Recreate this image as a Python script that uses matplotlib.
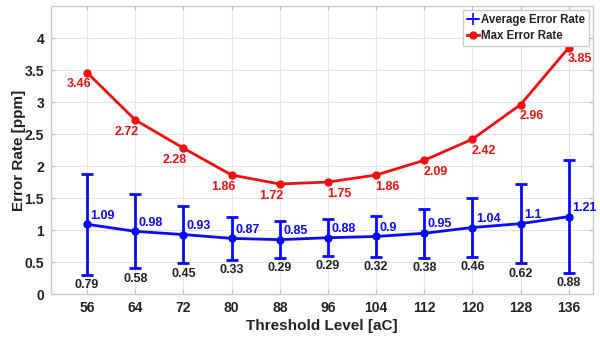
import matplotlib
matplotlib.use("Agg")
import matplotlib.pyplot as plt
from matplotlib.lines import Line2D

plt.rcParams['font.family'] = ['Liberation Sans', 'DejaVu Sans']
plt.rcParams['font.weight'] = 'bold'

thresholds = [56, 64, 72, 80, 88, 96, 104, 112, 120, 128, 136]
avg_rate = [1.09, 0.98, 0.93, 0.87, 0.85, 0.88, 0.9, 0.95, 1.04, 1.1, 1.21]
std_rate = [0.79, 0.58, 0.45, 0.33, 0.29, 0.29, 0.32, 0.38, 0.46, 0.62, 0.88]
max_rate = [3.46, 2.72, 2.28, 1.86, 1.72, 1.75, 1.86, 2.09, 2.42, 2.96, 3.85]

fig = plt.figure(figsize=(6, 3.38), dpi=100)
ax = fig.add_axes([0.085, 0.130, 0.903, 0.852])

blue = '#0a0aff'
red = '#f01010'

ax.errorbar(thresholds, avg_rate, yerr=std_rate, fmt='none', ecolor=blue, elinewidth=2,
            capsize=4, capthick=2, zorder=3)
ax.plot(thresholds, avg_rate, color=blue, lw=2, marker='o', ms=5, zorder=3)
ax.plot(thresholds, max_rate, color=red, lw=2, marker='o', ms=5, zorder=3)

for i, (x, m, s, mx) in enumerate(zip(thresholds, avg_rate, std_rate, max_rate)):
    ax.annotate(f"{m:g}", (x, m), xytext=(2.5, 2), textcoords='offset points',
                color=blue, fontsize=9, fontweight='bold', ha='left', va='bottom')
    ax.annotate(f"{s:g}", (x, m - s), xytext=(0, -3), textcoords='offset points',
                color='#222222', fontsize=9, fontweight='bold', ha='center', va='top')
    dx = -6 if x <= 88 else 8
    ax.annotate(f"{mx:g}", (x, mx), xytext=(dx, -4), textcoords='offset points',
                color=red, fontsize=9, fontweight='bold', ha='center', va='top')

ax.set_xlim(50, 140)
ax.set_ylim(0, 4.5)
ax.set_xticks(thresholds)
ax.set_yticks([0, 0.5, 1, 1.5, 2, 2.5, 3, 3.5, 4])
ax.set_yticklabels(['0', '0.5', '1', '1.5', '2', '2.5', '3', '3.5', '4'])
ax.grid(True, color='#e6e6e6', lw=0.8)
ax.set_axisbelow(True)
ax.tick_params(direction='in', length=3, colors='#bbbbbb', labelcolor='#222222',
               labelsize=10, top=True, right=True, pad=5)
for lab in ax.get_xticklabels() + ax.get_yticklabels():
    lab.set_fontweight('bold')
for sp in ax.spines.values():
    sp.set_color('#cccccc')
    sp.set_linewidth(1)

ax.set_xlabel('Threshold Level [aC]', fontsize=11, fontweight='bold', color='#222222', labelpad=3)
ax.set_ylabel('Error Rate [ppm]', fontsize=11, fontweight='bold', color='#222222', labelpad=-1)

handles = [Line2D([], [], color=blue, lw=1.2, marker='+', ms=9, mew=1.2),
           Line2D([], [], color=red, lw=2, marker='o', ms=5)]
leg = ax.legend(handles, ['Average Error Rate', 'Max Error Rate'], loc='upper right',
                fontsize=8.3, frameon=True, fancybox=False,
                handlelength=1.0, handletextpad=0.2, borderpad=0.35, labelspacing=0.35,
                borderaxespad=0.3, edgecolor='#cccccc', framealpha=1)
for t in leg.get_texts():
    t.set_fontweight('bold')
    t.set_color('#222222')

fig.savefig('out.png', dpi=100)
